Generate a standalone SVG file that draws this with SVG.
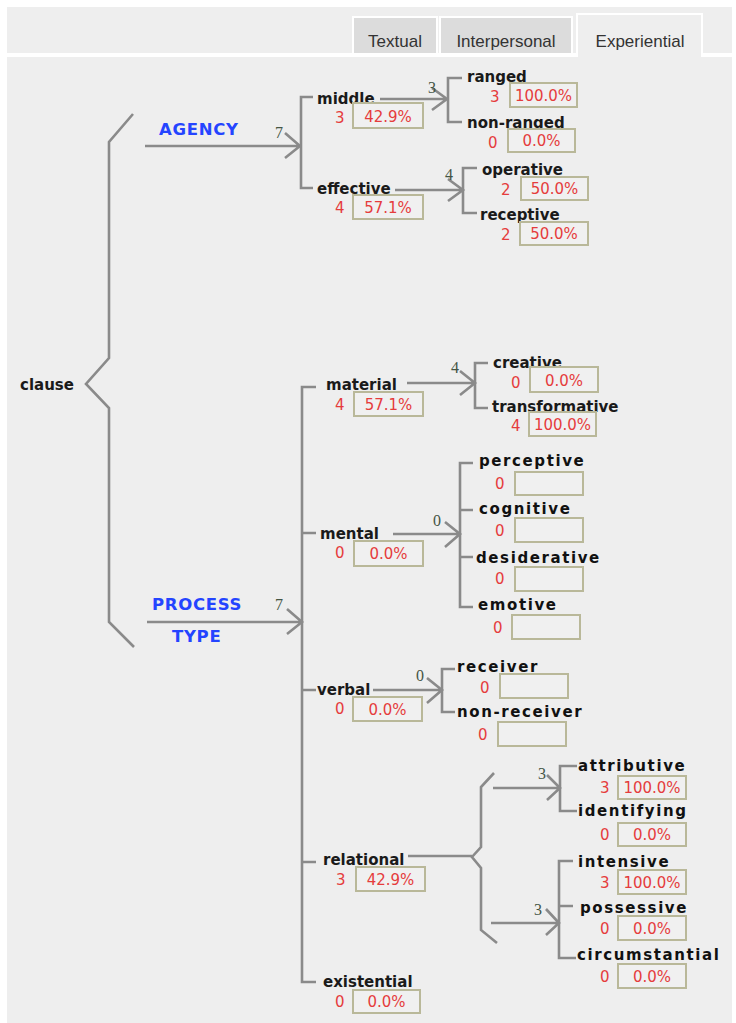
<svg xmlns="http://www.w3.org/2000/svg" width="736" height="1023" viewBox="0 0 736 1023">
<style>
.ln{fill:none;stroke:#8a8a8a;stroke-width:2.6;stroke-linejoin:miter}
.l{font-family:"DejaVu Sans",Verdana,sans-serif;font-weight:bold;font-size:15px;fill:#1a1a1a}
.lb{font-family:"DejaVu Sans",Verdana,sans-serif;font-weight:bold;font-size:15px;fill:#111111;letter-spacing:1.6px}
.sys{font-family:"DejaVu Sans",Verdana,sans-serif;font-weight:bold;font-size:16.5px;fill:#2444ff;letter-spacing:0.7px}
.c{font-family:"DejaVu Sans",Verdana,sans-serif;font-size:15px;fill:#e53c3c}
.p{font-family:"DejaVu Sans",Verdana,sans-serif;font-size:15px;fill:#e53c3c;text-anchor:middle}
.bx{fill:#f0f0f0;stroke:#b9b899;stroke-width:2}
.n{font-family:"Liberation Serif",serif;font-size:16px;fill:#445544}
.tab{font-family:"Liberation Sans",Arial,sans-serif;font-size:17px;fill:#333;text-anchor:middle}
</style>
<rect x="0" y="0" width="736" height="1023" fill="#ffffff"/>
<rect x="7" y="7" width="725" height="46" fill="#eeeeee"/>
<rect x="7" y="57" width="725" height="966" fill="#eeeeee"/>
<g id="tabs">
<rect x="353" y="17" width="84" height="37" fill="#dcdcdc" stroke="#ffffff" stroke-width="2"/>
<text class="tab" x="395" y="47">Textual</text>
<rect x="440" y="17" width="132" height="37" fill="#dcdcdc" stroke="#ffffff" stroke-width="2"/>
<text class="tab" x="506" y="47">Interpersonal</text>
<path d="M577,56 V14 H702 V56" fill="#eeeeee" stroke="#ffffff" stroke-width="2"/>
<rect x="578" y="54" width="123" height="5" fill="#eeeeee"/>
<text class="tab" x="640" y="47">Experiential</text>
</g>
<g id="connectors">
<path class="ln" d="M133,114 L109,142 V358 L86,384 L109,408 V622 L134,647"/>
<path class="ln" d="M145,146 H300 M285,133 L300,146 L285,158"/>
<path class="ln" d="M313,97 H301 V188 H313"/>
<path class="ln" d="M380,99 H447 M432,88 L447,99 L432,110"/>
<path class="ln" d="M462,78 H448 V122 H462"/>
<path class="ln" d="M395,190 H463 M448,179 L463,190 L448,201"/>
<path class="ln" d="M477,168 H463 V213 H477"/>
<path class="ln" d="M147,622 H302 M287,609 L302,622 L287,634"/>
<path class="ln" d="M316,387 H302 V982 H316 M302,533 H316 M302,690 H316 M302,862 H316"/>
<path class="ln" d="M407,383 H475 M460,371 L475,383 L460,395"/>
<path class="ln" d="M488,363 H475 V408 H488"/>
<path class="ln" d="M393,534 H460 M445,522 L460,534 L445,547"/>
<path class="ln" d="M473,463 H460 V607 H473 M460,510 H473 M460,557 H473"/>
<path class="ln" d="M373,690 H442 M427,678 L442,690 L427,703"/>
<path class="ln" d="M455,669 H442 V712 H455"/>
<path class="ln" d="M408,856 H472"/>
<path class="ln" d="M494,773 L481,787 V847 L472,857 L481,868 V930 L497,943"/>
<path class="ln" d="M493,788 H560 M547,775 L560,788 L547,800"/>
<path class="ln" d="M577,766 H560 V811 H577"/>
<path class="ln" d="M491,923 H559 M546,909 L559,923 L546,935"/>
<path class="ln" d="M573,861 H559 V958 H576 M559,906 H573"/>
<text class="n" x="275" y="138">7</text>
<text class="n" x="428" y="93">3</text>
<text class="n" x="445" y="180">4</text>
<text class="n" x="275" y="610">7</text>
<text class="n" x="451" y="373">4</text>
<text class="n" x="433" y="526">0</text>
<text class="n" x="416" y="681">0</text>
<text class="n" x="538" y="779">3</text>
<text class="n" x="534" y="915">3</text>
</g>
<g id="clause"><text class="l" x="20" y="390">clause</text></g>
<g id="agency"><text class="sys" x="159" y="135">AGENCY</text></g>
<g id="process-type"><text class="sys" x="152" y="610">PROCESS</text><text class="sys" x="172" y="642">TYPE</text></g>
<g id="middle"><text class="l" x="317" y="104">middle</text><text class="c" x="335" y="123">3</text><rect class="bx" x="353" y="103" width="70" height="25"/><text class="p" x="388" y="122">42.9%</text></g>
<g id="effective"><text class="l" x="317" y="194">effective</text><text class="c" x="335" y="213">4</text><rect class="bx" x="353" y="195" width="70" height="24"/><text class="p" x="388" y="213">57.1%</text></g>
<g id="ranged"><text class="l" x="467" y="82">ranged</text><text class="c" x="490" y="102">3</text><rect class="bx" x="510" y="83" width="67" height="24"/><text class="p" x="543.500" y="101">100.0%</text></g>
<g id="non-ranged"><text class="l" x="467" y="128">non-ranged</text><text class="c" x="488" y="148">0</text><rect class="bx" x="508" y="129" width="67" height="23"/><text class="p" x="541.500" y="146">0.0%</text></g>
<g id="operative"><text class="l" x="482" y="175">operative</text><text class="c" x="501" y="195">2</text><rect class="bx" x="521" y="177" width="67" height="23"/><text class="p" x="554.500" y="194">50.0%</text></g>
<g id="receptive"><text class="l" x="480" y="220">receptive</text><text class="c" x="501" y="240">2</text><rect class="bx" x="520" y="222" width="68" height="23"/><text class="p" x="554" y="239">50.0%</text></g>
<g id="material"><text class="l" x="326" y="390">material</text><text class="c" x="335" y="410">4</text><rect class="bx" x="354" y="392" width="69" height="24"/><text class="p" x="388.500" y="410">57.1%</text></g>
<g id="creative"><text class="l" x="493" y="368">creative</text><text class="c" x="511" y="388">0</text><rect class="bx" x="530" y="367" width="68" height="25"/><text class="p" x="564" y="386">0.0%</text></g>
<g id="transformative"><text class="l" x="492" y="412">transformative</text><text class="c" x="511" y="431">4</text><rect class="bx" x="529" y="412" width="67" height="24"/><text class="p" x="562.500" y="430">100.0%</text></g>
<g id="mental"><text class="l" x="320" y="539">mental</text><text class="c" x="335" y="558">0</text><rect class="bx" x="354" y="541" width="69" height="25"/><text class="p" x="388.500" y="559">0.0%</text></g>
<g id="perceptive"><text class="lb" x="479" y="466">perceptive</text><text class="c" x="495" y="489">0</text><rect class="bx" x="515" y="472" width="68" height="23"/></g>
<g id="cognitive"><text class="lb" x="479" y="514">cognitive</text><text class="c" x="495" y="536">0</text><rect class="bx" x="515" y="518" width="68" height="24"/></g>
<g id="desiderative"><text class="lb" x="476" y="563">desiderative</text><text class="c" x="495" y="584">0</text><rect class="bx" x="515" y="567" width="68" height="24"/></g>
<g id="emotive"><text class="lb" x="478" y="610">emotive</text><text class="c" x="493" y="633">0</text><rect class="bx" x="512" y="615" width="68" height="24"/></g>
<g id="verbal"><text class="l" x="317" y="695">verbal</text><text class="c" x="335" y="714">0</text><rect class="bx" x="353" y="697" width="69" height="24"/><text class="p" x="387.500" y="715">0.0%</text></g>
<g id="receiver"><text class="lb" x="457" y="672">receiver</text><text class="c" x="480" y="693">0</text><rect class="bx" x="500" y="674" width="68" height="24"/></g>
<g id="non-receiver"><text class="lb" x="457" y="717">non-receiver</text><text class="c" x="478" y="740">0</text><rect class="bx" x="498" y="722" width="68" height="24"/></g>
<g id="relational"><text class="l" x="323" y="865">relational</text><text class="c" x="336" y="885">3</text><rect class="bx" x="356" y="867" width="69" height="24"/><text class="p" x="390.500" y="885">42.9%</text></g>
<g id="existential"><text class="l" x="323" y="987">existential</text><text class="c" x="335" y="1007">0</text><rect class="bx" x="353" y="990" width="67" height="23"/><text class="p" x="386.500" y="1007">0.0%</text></g>
<g id="attributive"><text class="lb" x="578" y="771">attributive</text><text class="c" x="600" y="793">3</text><rect class="bx" x="618" y="776" width="68" height="23"/><text class="p" x="652" y="793">100.0%</text></g>
<g id="identifying"><text class="lb" x="578" y="816">identifying</text><text class="c" x="600" y="840">0</text><rect class="bx" x="618" y="823" width="68" height="23"/><text class="p" x="652" y="840">0.0%</text></g>
<g id="intensive"><text class="lb" x="578" y="867">intensive</text><text class="c" x="600" y="888">3</text><rect class="bx" x="618" y="870" width="68" height="24"/><text class="p" x="652" y="888">100.0%</text></g>
<g id="possessive"><text class="lb" x="580" y="913">possessive</text><text class="c" x="600" y="934">0</text><rect class="bx" x="618" y="916" width="68" height="24"/><text class="p" x="652" y="934">0.0%</text></g>
<g id="circumstantial"><text class="lb" x="577" y="960">circumstantial</text><text class="c" x="600" y="982">0</text><rect class="bx" x="618" y="964" width="68" height="24"/><text class="p" x="652" y="982">0.0%</text></g>
</svg>
